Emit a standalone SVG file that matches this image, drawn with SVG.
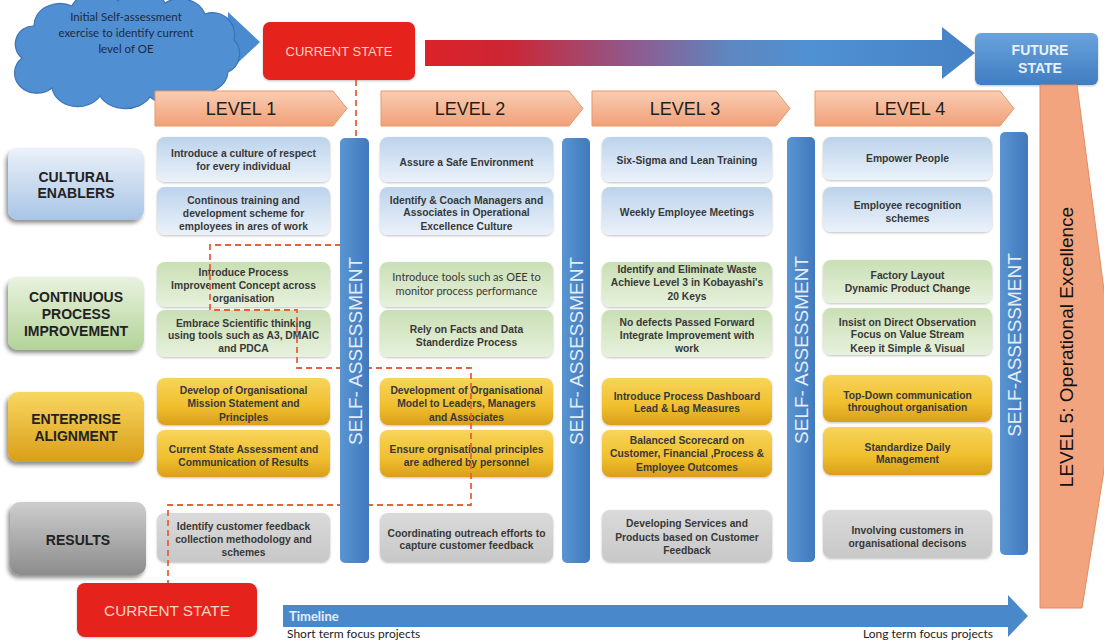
<svg xmlns="http://www.w3.org/2000/svg" width="1104" height="642" viewBox="0 0 1104 642">
<defs>
<linearGradient id="gBlue" x1="0" y1="0" x2="0" y2="1"><stop offset="0" stop-color="#bcd3ec"/><stop offset="1" stop-color="#ebf2fa"/></linearGradient>
<linearGradient id="gGreen" x1="0" y1="0" x2="0" y2="1"><stop offset="0" stop-color="#c9dfb4"/><stop offset="1" stop-color="#e7f1dd"/></linearGradient>
<linearGradient id="gGold" x1="0" y1="0" x2="0" y2="1"><stop offset="0" stop-color="#f7d45a"/><stop offset="0.6" stop-color="#f0bf2e"/><stop offset="1" stop-color="#d99f1b"/></linearGradient>
<linearGradient id="gGrey" x1="0" y1="0" x2="0" y2="1"><stop offset="0" stop-color="#dadada"/><stop offset="1" stop-color="#c8c8c8"/></linearGradient>
<linearGradient id="lBlue" x1="0" y1="0" x2="0" y2="1"><stop offset="0" stop-color="#eaf1f9"/><stop offset="1" stop-color="#a8c5e6"/></linearGradient>
<linearGradient id="lGreen" x1="0" y1="0" x2="0" y2="1"><stop offset="0" stop-color="#e9f2df"/><stop offset="1" stop-color="#b3d398"/></linearGradient>
<linearGradient id="lGold" x1="0" y1="0" x2="0" y2="1"><stop offset="0" stop-color="#f8d760"/><stop offset="1" stop-color="#d99e18"/></linearGradient>
<linearGradient id="lGrey" x1="0" y1="0" x2="0" y2="1"><stop offset="0" stop-color="#cdcdcd"/><stop offset="1" stop-color="#8c8c8c"/></linearGradient>
<linearGradient id="gHead" x1="0" y1="0" x2="0" y2="1"><stop offset="0" stop-color="#f9cdb3"/><stop offset="1" stop-color="#f1a078"/></linearGradient>
<linearGradient id="gBar" x1="0" y1="0" x2="1" y2="0"><stop offset="0" stop-color="#5a95d2"/><stop offset="1" stop-color="#4079bd"/></linearGradient>
<linearGradient id="gFuture" x1="0" y1="0" x2="0" y2="1"><stop offset="0" stop-color="#6aa3dc"/><stop offset="1" stop-color="#3f7dc2"/></linearGradient>
<linearGradient id="gBig" gradientUnits="userSpaceOnUse" x1="425" y1="0" x2="975" y2="0"><stop offset="0" stop-color="#db2228"/><stop offset="0.15" stop-color="#cc2634"/><stop offset="0.38" stop-color="#8f5a8e"/><stop offset="0.55" stop-color="#5f86bf"/><stop offset="0.7" stop-color="#4f91d2"/><stop offset="1" stop-color="#4682c6"/></linearGradient>
<filter id="sh" x="-10%" y="-10%" width="120%" height="130%"><feDropShadow dx="0" dy="1" stdDeviation="1.2" flood-color="#000" flood-opacity="0.25"/></filter>
<filter id="shL" x="-15%" y="-15%" width="130%" height="140%"><feDropShadow dx="-2" dy="3" stdDeviation="2" flood-color="#000" flood-opacity="0.45"/></filter>
<style>
.cell{stroke:none;filter:url(#sh)}
.ct{font-family:"Liberation Sans",Arial,sans-serif;font-size:10.3px;font-weight:bold;fill:#383838;text-anchor:middle}
.ct2{font-family:Lato,"Open Sans",sans-serif;font-size:11px;fill:#383838;text-anchor:middle}
.lab{filter:url(#shL)}
.lt{font-family:"Liberation Sans",Arial,sans-serif;font-size:14px;font-weight:bold;fill:#222;text-anchor:middle}
.head{fill:url(#gHead);stroke:#e8976b;stroke-width:1}
.ht{font-family:"Liberation Sans",Arial,sans-serif;font-size:18px;fill:#1e1e1e;text-anchor:middle}
.bar{fill:url(#gBar)}
.bt{font-family:"Liberation Sans",Arial,sans-serif;font-size:19px;fill:#e3edf8;text-anchor:middle}
.cs{fill:#e5201e;filter:url(#sh)}
.cst{font-family:"Liberation Sans",Arial,sans-serif;fill:#fbd4c1;text-anchor:middle}
.dash{fill:none;stroke:#e8613d;stroke-width:1.8;stroke-dasharray:6 4}
.cal{font-family:Lato,"Open Sans",sans-serif}
</style>
</defs>
<rect width="1104" height="642" fill="#ffffff"/>

<g id="connectors">
<polygon points="195,28 228,28 228,12 260,42 228,72 228,56 195,56" fill="#4a8ad0"/>
<polygon points="425,40 942,40 942,27 975,53 942,79 942,66 425,66" fill="url(#gBig)"/>
<polygon points="283,605 1008,605 1008,595 1028,616 1008,637 1008,627 283,627" fill="#4a88cc"/>
</g>

<g id="cloud">
<path d="M22,58 A18,18 0 0 1 34,26 A26,22 0 0 1 72,6 A26,20 0 0 1 118,1 A26,20 0 0 1 165,3 A26,22 0 0 1 205,14 A22,22 0 0 1 234,40 A20,20 0 0 1 228,72 A26,22 0 0 1 195,92 A28,22 0 0 1 150,97 A28,22 0 0 1 100,96 A26,22 0 0 1 52,88 A20,18 0 0 1 22,58 Z" fill="#4f8fd2" stroke="#3d74b5" stroke-width="1.2"/>
<text class="cal" font-size="11.5" fill="#1f2a3a" text-anchor="middle"><tspan x="126" y="21">Initial Self-assessment</tspan><tspan x="126" y="37">exercise to identify current</tspan><tspan x="126" y="53">level of OE</tspan></text>
</g>

<g id="current-state-top">
<rect class="cs" x="263" y="22" width="152" height="58" rx="7"/>
<text class="cst" x="339" y="56" font-size="13">CURRENT STATE</text>
</g>

<g id="future-state">
<rect x="975" y="33" width="123" height="52" rx="6" fill="url(#gFuture)" filter="url(#sh)"/>
<text x="1040" y="55" font-family="Liberation Sans,Arial,sans-serif" font-size="14" font-weight="bold" fill="#e8f0f9" text-anchor="middle">FUTURE</text>
<text x="1040" y="73" font-family="Liberation Sans,Arial,sans-serif" font-size="14" font-weight="bold" fill="#e8f0f9" text-anchor="middle">STATE</text>
</g>

<g id="level5">
<polygon points="1040,85 1077,85 1117,389 1082,608 1040,608" fill="#f2a47f" stroke="#e58a60" stroke-width="1"/>
<text transform="translate(1073,347) rotate(-90)" x="0" y="0" font-family="Liberation Sans,Arial,sans-serif" font-size="19" fill="#111" text-anchor="middle">LEVEL 5: Operational Excellence</text>
</g>

<g id="level1-header"><polygon class="head" points="155,91 333,91 347,108.5 333,126 155,126"/><text class="ht" x="241" y="115">LEVEL 1</text></g>
<g id="level2-header"><polygon class="head" points="381,91 569,91 583,108.5 569,126 381,126"/><text class="ht" x="470" y="115">LEVEL 2</text></g>
<g id="level3-header"><polygon class="head" points="592,91 776,91 790,108.5 776,126 592,126"/><text class="ht" x="685" y="115">LEVEL 3</text></g>
<g id="level4-header"><polygon class="head" points="815,91 1000,91 1014,108.5 1000,126 815,126"/><text class="ht" x="910" y="115">LEVEL 4</text></g>

<g id="label-cultural"><rect class="lab" x="8" y="148" width="136" height="72" rx="10" fill="url(#lBlue)"/><text class="lt" x="76" y="182">CULTURAL</text><text class="lt" x="76" y="198">ENABLERS</text></g>
<g id="label-cpi"><rect class="lab" x="8" y="277" width="136" height="73" rx="10" fill="url(#lGreen)"/><text class="lt" x="76" y="302">CONTINUOUS</text><text class="lt" x="76" y="319">PROCESS</text><text class="lt" x="76" y="336">IMPROVEMENT</text></g>
<g id="label-enterprise"><rect class="lab" x="8" y="392" width="136" height="70" rx="10" fill="url(#lGold)"/><text class="lt" x="76" y="424">ENTERPRISE</text><text class="lt" x="76" y="441">ALIGNMENT</text></g>
<g id="label-results"><rect class="lab" x="10" y="502" width="136" height="73" rx="10" fill="url(#lGrey)"/><text class="lt" x="78" y="545">RESULTS</text></g>

<g id="level1-cells">
<rect class="cell" x="157" y="137" width="173" height="45" rx="8" fill="url(#gBlue)"/>
<text class="ct"><tspan x="243.5" y="157">Introduce a culture of respect</tspan><tspan x="243.5" y="170">for every individual</tspan></text>
<rect class="cell" x="157" y="187" width="173" height="48" rx="8" fill="url(#gBlue)"/>
<text class="ct"><tspan x="243.5" y="204">Continous training and</tspan><tspan x="243.5" y="217">development scheme for</tspan><tspan x="243.5" y="230">employees in ares of work</tspan></text>
<rect class="cell" x="157" y="262" width="173" height="45" rx="8" fill="url(#gGreen)"/>
<text class="ct"><tspan x="243.5" y="276">Introduce Process</tspan><tspan x="243.5" y="289">Improvement Concept across</tspan><tspan x="243.5" y="302">organisation</tspan></text>
<rect class="cell" x="157" y="310" width="173" height="47" rx="8" fill="url(#gGreen)"/>
<text class="ct"><tspan x="243.5" y="327">Embrace Scientific thinking</tspan><tspan x="243.5" y="339">using tools such as A3, DMAIC</tspan><tspan x="243.5" y="352">and PDCA</tspan></text>
<rect class="cell" x="157" y="378" width="173" height="47" rx="8" fill="url(#gGold)"/>
<text class="ct"><tspan x="243.5" y="394">Develop of Organisational</tspan><tspan x="243.5" y="407">Mission Statement and</tspan><tspan x="243.5" y="421">Principles</tspan></text>
<rect class="cell" x="157" y="430" width="173" height="47" rx="8" fill="url(#gGold)"/>
<text class="ct"><tspan x="243.5" y="453">Current State Assessment and</tspan><tspan x="243.5" y="466">Communication of Results</tspan></text>
<rect class="cell" x="157" y="513" width="173" height="49" rx="8" fill="url(#gGrey)"/>
<text class="ct"><tspan x="243.5" y="530">Identify customer feedback</tspan><tspan x="243.5" y="543">collection methodology and</tspan><tspan x="243.5" y="556">schemes</tspan></text>
</g>

<g id="level2-cells">
<rect class="cell" x="380" y="137" width="173" height="45" rx="8" fill="url(#gBlue)"/>
<text class="ct" x="466.5" y="166">Assure a Safe Environment</text>
<rect class="cell" x="380" y="187" width="173" height="48" rx="8" fill="url(#gBlue)"/>
<text class="ct"><tspan x="466.5" y="204">Identify &amp; Coach Managers and</tspan><tspan x="466.5" y="216">Associates in Operational</tspan><tspan x="466.5" y="230">Excellence Culture</tspan></text>
<rect class="cell" x="380" y="262" width="173" height="45" rx="8" fill="url(#gGreen)"/>
<text class="ct2"><tspan x="466.5" y="281">Introduce tools such as OEE to</tspan><tspan x="466.5" y="295">monitor process performance</tspan></text>
<rect class="cell" x="380" y="310" width="173" height="47" rx="8" fill="url(#gGreen)"/>
<text class="ct"><tspan x="466.5" y="333">Rely on Facts and Data</tspan><tspan x="466.5" y="346">Standerdize Process</tspan></text>
<rect class="cell" x="380" y="378" width="173" height="47" rx="8" fill="url(#gGold)"/>
<text class="ct"><tspan x="466.5" y="394">Development of Organisational</tspan><tspan x="466.5" y="407">Model to Leaders, Managers</tspan><tspan x="466.5" y="421">and Associates</tspan></text>
<rect class="cell" x="380" y="430" width="173" height="47" rx="8" fill="url(#gGold)"/>
<text class="ct"><tspan x="466.5" y="453">Ensure orgnisational principles</tspan><tspan x="466.5" y="466">are adhered by personnel</tspan></text>
<rect class="cell" x="380" y="513" width="173" height="49" rx="8" fill="url(#gGrey)"/>
<text class="ct"><tspan x="466.5" y="537">Coordinating outreach efforts to</tspan><tspan x="466.5" y="549">capture customer feedback</tspan></text>
</g>

<g id="level3-cells">
<rect class="cell" x="602" y="137" width="170" height="45" rx="8" fill="url(#gBlue)"/>
<text class="ct" x="687" y="164">Six-Sigma and Lean Training</text>
<rect class="cell" x="602" y="187" width="170" height="48" rx="8" fill="url(#gBlue)"/>
<text class="ct" x="687" y="216">Weekly Employee Meetings</text>
<rect class="cell" x="602" y="262" width="170" height="45" rx="8" fill="url(#gGreen)"/>
<text class="ct"><tspan x="687" y="273">Identify and Eliminate Waste</tspan><tspan x="687" y="286">Achieve Level 3 in Kobayashi's</tspan><tspan x="687" y="300">20 Keys</tspan></text>
<rect class="cell" x="602" y="310" width="170" height="47" rx="8" fill="url(#gGreen)"/>
<text class="ct"><tspan x="687" y="326">No defects Passed Forward</tspan><tspan x="687" y="339">Integrate Improvement with</tspan><tspan x="687" y="352">work</tspan></text>
<rect class="cell" x="602" y="378" width="170" height="47" rx="8" fill="url(#gGold)"/>
<text class="ct"><tspan x="687" y="400">Introduce Process Dashboard</tspan><tspan x="687" y="412">Lead &amp; Lag Measures</tspan></text>
<rect class="cell" x="602" y="430" width="170" height="47" rx="8" fill="url(#gGold)"/>
<text class="ct"><tspan x="687" y="444">Balanced Scorecard on</tspan><tspan x="687" y="457">Customer, Financial ,Process &amp;</tspan><tspan x="687" y="471">Employee Outcomes</tspan></text>
<rect class="cell" x="602" y="510" width="170" height="52" rx="8" fill="url(#gGrey)"/>
<text class="ct"><tspan x="687" y="527">Developing Services and</tspan><tspan x="687" y="541">Products based on Customer</tspan><tspan x="687" y="554">Feedback</tspan></text>
</g>

<g id="level4-cells">
<rect class="cell" x="823" y="137" width="169" height="43" rx="8" fill="url(#gBlue)"/>
<text class="ct" x="907.5" y="162">Empower People</text>
<rect class="cell" x="823" y="187" width="169" height="45" rx="8" fill="url(#gBlue)"/>
<text class="ct"><tspan x="907.5" y="209">Employee recognition</tspan><tspan x="907.5" y="222">schemes</tspan></text>
<rect class="cell" x="823" y="260" width="169" height="43" rx="8" fill="url(#gGreen)"/>
<text class="ct"><tspan x="907.5" y="279">Factory Layout</tspan><tspan x="907.5" y="292">Dynamic Product Change</tspan></text>
<rect class="cell" x="823" y="308" width="169" height="47" rx="8" fill="url(#gGreen)"/>
<text class="ct"><tspan x="907.5" y="326">Insist on Direct Observation</tspan><tspan x="907.5" y="338">Focus on Value Stream</tspan><tspan x="907.5" y="352">Keep it Simple &amp; Visual</tspan></text>
<rect class="cell" x="823" y="375" width="169" height="47" rx="8" fill="url(#gGold)"/>
<text class="ct"><tspan x="907.5" y="399">Top-Down communication</tspan><tspan x="907.5" y="411">throughout organisation</tspan></text>
<rect class="cell" x="823" y="427" width="169" height="48" rx="8" fill="url(#gGold)"/>
<text class="ct"><tspan x="907.5" y="451">Standardize Daily</tspan><tspan x="907.5" y="463">Management</tspan></text>
<rect class="cell" x="823" y="510" width="169" height="48" rx="8" fill="url(#gGrey)"/>
<text class="ct"><tspan x="907.5" y="534">Involving customers in</tspan><tspan x="907.5" y="547">organisational decisons</tspan></text>
</g>

<g id="dashed-path">
<path class="dash" d="M356,80 V245 H210 V310 H297 V368 H471 V505 H168 V583"/>
</g>

<g id="self-assessment-1"><rect class="bar" x="340" y="138" width="29" height="425" rx="5"/><text class="bt" transform="translate(361.5,351) rotate(-90)">SELF- ASSESSMENT</text></g>
<g id="self-assessment-2"><rect class="bar" x="562" y="138" width="28" height="425" rx="5"/><text class="bt" transform="translate(582.5,351) rotate(-90)">SELF- ASSESSMENT</text></g>
<g id="self-assessment-3"><rect class="bar" x="787" y="137" width="28" height="425" rx="5"/><text class="bt" transform="translate(807.5,350) rotate(-90)">SELF- ASSESSMENT</text></g>
<g id="self-assessment-4"><rect class="bar" x="1000" y="132" width="28" height="423" rx="5"/><text class="bt" transform="translate(1020.5,345) rotate(-90)">SELF-ASSESSMENT</text></g>

<g id="current-state-bottom">
<rect class="cs" x="77" y="583" width="180" height="54" rx="8"/>
<text class="cst" x="167" y="616" font-size="15.3">CURRENT STATE</text>
</g>

<g id="timeline">
<text class="cal" x="289" y="621" font-size="13" font-weight="bold" fill="#e6eef8">Timeline</text>
<text class="cal" x="287" y="638" font-size="12" fill="#222">Short term focus projects</text>
<text class="cal" x="993" y="638" font-size="12" fill="#222" text-anchor="end">Long term focus projects</text>
</g>
</svg>
